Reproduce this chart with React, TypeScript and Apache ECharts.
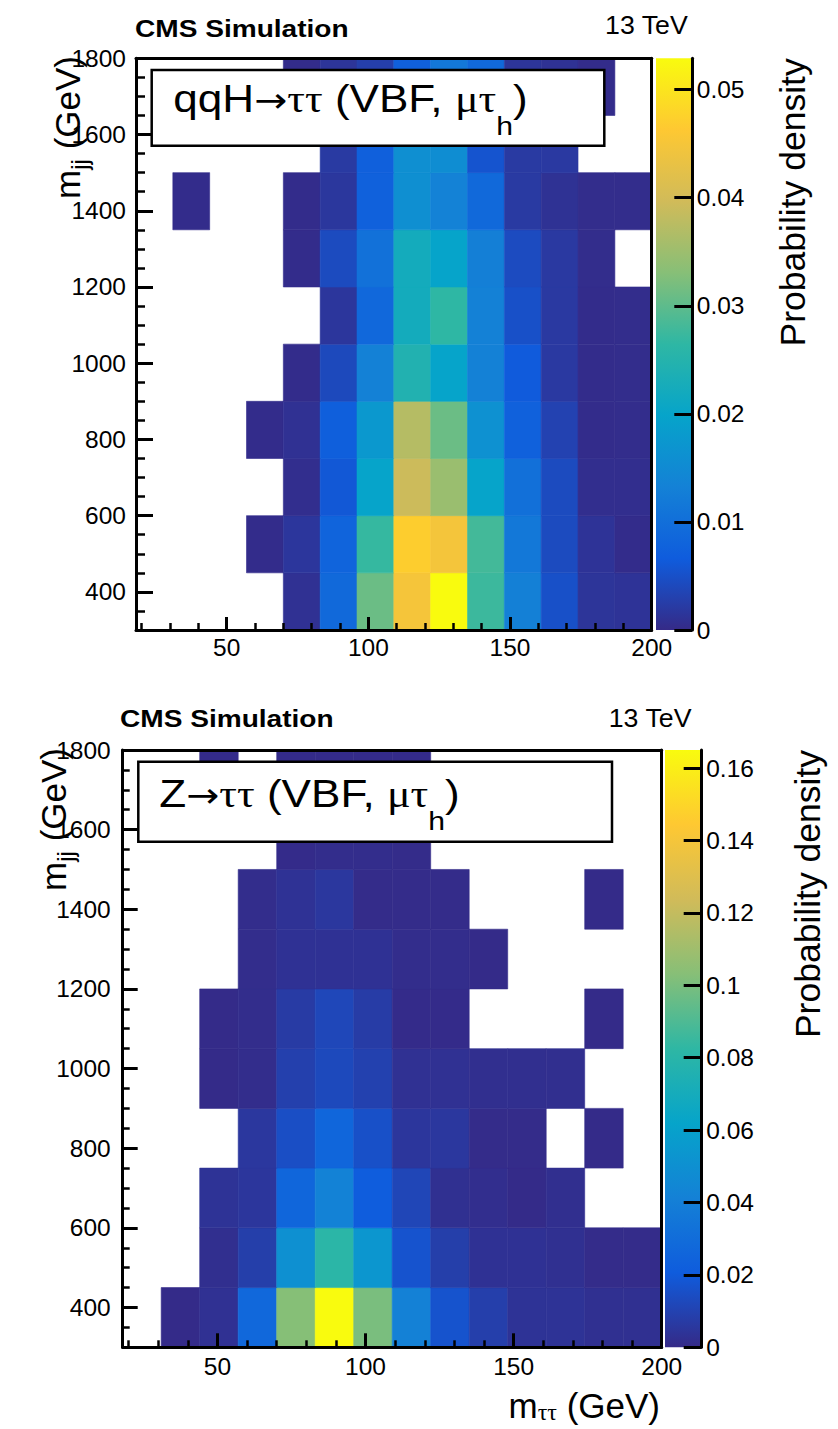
import React, { useEffect, useRef } from "react";
import * as echarts from "echarts";

// ---------------- data ----------------
const M_TAUTAU_LOW_EDGES = [18, 31, 44, 57, 70, 83, 96, 109, 122, 135, 148, 161, 174, 187];
const M_TAUTAU_BIN_WIDTH = 13;
const M_TAUTAU_MIN = 18;
const M_TAUTAU_MAX = 200;
const M_JJ_LOW_EDGES = [300, 450, 600, 750, 900, 1050, 1200, 1350, 1500, 1650];
const M_JJ_BIN_WIDTH = 150;
const M_JJ_MIN = 300;
const M_JJ_MAX = 1800;

const X_TICK_LABELS = [50, 100, 150, 200];
const X_MINOR_TICKS = [20, 30, 40, 60, 70, 80, 90, 110, 120, 130, 140, 160, 170, 180, 190];
const Y_TICK_LABELS = [400, 600, 800, 1000, 1200, 1400, 1600, 1800];
const Y_MINOR_TICKS = [350, 450, 500, 550, 650, 700, 750, 850, 900, 950, 1050, 1100, 1150, 1250, 1300, 1350, 1450, 1500, 1550, 1650, 1700, 1750];

// probability density, one row per m_jj bin (300-450 first), one column per m_tautau bin
const QQH_DENSITY = [
  [0, 0, 0, 0, 0.0009, 0.009, 0.031, 0.045, 0.0529, 0.0275, 0.013, 0.005, 0.0014, 0.0012],
  [0, 0, 0, 0.0003, 0.0016, 0.008, 0.027, 0.047, 0.0448, 0.028, 0.0116, 0.0043, 0.0012, 0.0003],
  [0, 0, 0, 0, 0.0005, 0.0061, 0.0198, 0.0392, 0.0348, 0.0198, 0.0102, 0.0043, 0.0005, 0.0005],
  [0, 0, 0, 0.0003, 0.0009, 0.0071, 0.0176, 0.0372, 0.031, 0.0162, 0.0075, 0.0032, 0.0003, 0.0004],
  [0, 0, 0, 0, 0.0003, 0.0041, 0.0132, 0.0244, 0.0198, 0.0132, 0.0065, 0.002, 0.0003, 0.0004],
  [0, 0, 0, 0, 0, 0.0016, 0.0088, 0.0222, 0.0264, 0.0132, 0.005, 0.002, 0.0003, 0.0004],
  [0, 0, 0, 0, 0.0003, 0.0043, 0.0103, 0.0222, 0.0198, 0.0128, 0.0044, 0.002, 0.0004, 0],
  [0, 0.0003, 0, 0, 0.0003, 0.0017, 0.0075, 0.0158, 0.0134, 0.009, 0.0021, 0.001, 0.0004, 0.0004],
  [0, 0, 0, 0, 0, 0.0021, 0.0073, 0.0158, 0.0155, 0.0055, 0.0021, 0.002, 0, 0],
  [0, 0, 0, 0, 0.0003, 0.0014, 0.0028, 0.0074, 0.0116, 0.009, 0.0014, 0.001, 0.0003, 0],
];

const ZTT_DENSITY = [
  [0, 0.0005, 0.0029, 0.0273, 0.103, 0.165, 0.1, 0.041, 0.0169, 0.0087, 0.0037, 0.0037, 0.0025, 0.0025],
  [0, 0, 0.002, 0.0085, 0.05, 0.081, 0.0536, 0.017, 0.0085, 0.003, 0.003, 0.0025, 0.0008, 0.0008],
  [0, 0, 0.0037, 0.005, 0.0262, 0.042, 0.0212, 0.0115, 0.0025, 0.0016, 0.0005, 0.002, 0, 0],
  [0, 0, 0, 0.0054, 0.0148, 0.026, 0.0156, 0.005, 0.0054, 0.0008, 0.0008, 0, 0.0005, 0],
  [0, 0, 0.0004, 0.0012, 0.009, 0.0128, 0.0095, 0.0029, 0.0029, 0.002, 0.002, 0.002, 0, 0],
  [0, 0, 0.0004, 0.0012, 0.007, 0.012, 0.0075, 0.0006, 0.0006, 0, 0, 0, 0.0004, 0],
  [0, 0, 0, 0.0012, 0.003, 0.003, 0.003, 0.0012, 0.0012, 0.0004, 0, 0, 0, 0],
  [0, 0, 0, 0.0012, 0.0033, 0.0054, 0.0008, 0.0008, 0.0008, 0, 0, 0, 0.0004, 0],
  [0, 0, 0, 0, 0.0006, 0.0012, 0.0012, 0.0008, 0, 0, 0, 0, 0, 0],
  [0, 0, 0.0006, 0, 0.0006, 0.0006, 0.0006, 0.0006, 0, 0, 0, 0, 0, 0],
];

const QQH_Z_MAX = 0.0529;
const ZTT_Z_MAX = 0.165;
const QQH_Z_TICKS = [0, 0.01, 0.02, 0.03, 0.04, 0.05];
const ZTT_Z_TICKS = [0, 0.02, 0.04, 0.06, 0.08, 0.1, 0.12, 0.14, 0.16];

// ROOT kBird palette
const BIRD = ["#352a87", "#0f5cdd", "#1481d6", "#06a4ca", "#2eb7a4", "#87bf77", "#d1bb59", "#fec832", "#f9fb0e"];

// ---------------- layout / styling ----------------
const SANS = "'Liberation Sans', Arial, Helvetica, sans-serif";
const SERIF = "'Liberation Serif', 'DejaVu Serif', serif";
const ARROWF = "'DejaVu Sans', sans-serif";

type Seg = { t: string; size: number; fam?: string; bold?: boolean; dy?: number };

let measureCtx: CanvasRenderingContext2D | null = null;
function measure(s: Seg): number {
  if (!measureCtx) measureCtx = document.createElement("canvas").getContext("2d");
  measureCtx!.font = `${s.bold ? "bold" : "normal"} ${s.size}px ${s.fam || SANS}`;
  return measureCtx!.measureText(s.t).width;
}

// text run anchored on its baseline; align left = anchor at start, right = anchor at end
function run(segs: Seg[], x: number, y: number, align: "left" | "right", rotation = 0, scaleX = 1, z = 100) {
  const ws = segs.map(measure);
  const total = ws.reduce((a, b) => a + b, 0);
  let cx = align === "left" ? 0 : -total;
  const children = segs.map((s, i) => {
    const el = {
      type: "text",
      x: cx,
      y: (s.dy || 0) - 0.3467 * s.size,
      z,
      style: {
        text: s.t,
        fontSize: s.size,
        fontFamily: s.fam || SANS,
        fontWeight: s.bold ? "bold" : "normal",
        fill: "#000",
        align: "left",
        verticalAlign: "middle",
        textAlign: "left",
        textVerticalAlign: "middle",
      },
    };
    cx += ws[i];
    return el;
  });
  return { type: "group", x, y, rotation, scaleX, scaleY: 1, z, children };
}

const PANELS = [
  {
    density: QQH_DENSITY,
    zMax: QQH_Z_MAX,
    zTicks: QQH_Z_TICKS,
    frame: { left: 136, top: 58.3, width: 515.7, height: 571.7 },
    bar: { left: 656, width: 36.3 },
    xTick: [13, 7],
    yTick: [17, 9],
    xLabelMargin: 5,
    yLabelMargin: 10,
    box: { x: 151.7, y: 70, w: 452.6, h: 75.7 },
    boxText: { x: 173.3, y: 112, head: "qqH" },
    cms: { x: 135, y: 36.7 },
    tev: { x: 688.3, y: 34 },
    yTitle: { x: 80, y: 56 },
    zTitle: { x: 805, y: 58.3 },
    xTitle: null as null | { x: number; y: number },
  },
  {
    density: ZTT_DENSITY,
    zMax: ZTT_Z_MAX,
    zTicks: ZTT_Z_TICKS,
    frame: { left: 122.7, top: 750, width: 539, height: 597.3 },
    bar: { left: 665, width: 36.7 },
    xTick: [14, 7],
    yTick: [15, 7],
    xLabelMargin: 7,
    yLabelMargin: 12,
    box: { x: 138.3, y: 761.7, w: 473.7, h: 80 },
    boxText: { x: 159.3, y: 807, head: "Z" },
    cms: { x: 120, y: 726.7 },
    tev: { x: 692, y: 727 },
    yTitle: { x: 66, y: 748 },
    zTitle: { x: 820, y: 750 },
    xTitle: { x: 660, y: 1418 },
  },
];

function buildOption() {
  const grid: any[] = [];
  const xAxis: any[] = [];
  const yAxis: any[] = [];
  const series: any[] = [];
  const visualMap: any[] = [];
  const graphic: any[] = [];

  const black = { color: "#000" };
  const labelStyle = { fontSize: 24.5, fontFamily: SANS, color: "#000" };
  const plain = (v: number) => String(v);

  PANELS.forEach((p) => {
    const gPlot = grid.length;
    grid.push({ left: p.frame.left, top: p.frame.top, width: p.frame.width, height: p.frame.height, outerBoundsMode: "none" });
    const gBar = grid.length;
    grid.push({ left: p.bar.left, top: p.frame.top, width: p.bar.width, height: p.frame.height, outerBoundsMode: "none" });

    const xi = xAxis.length;
    const xBase = { type: "value", gridIndex: gPlot, min: M_TAUTAU_MIN, max: M_TAUTAU_MAX, z: 10, splitLine: { show: false }, minorTick: { show: false } };
    xAxis.push(
      {
        ...xBase,
        position: "bottom",
        axisLine: { show: true, onZero: false, lineStyle: { ...black, width: 3 } },
        axisTick: { show: true, inside: true, length: p.xTick[0], customValues: X_TICK_LABELS, lineStyle: { ...black, width: 3 } },
        axisLabel: { show: true, customValues: X_TICK_LABELS, margin: p.xLabelMargin, formatter: plain, ...labelStyle },
      },
      {
        ...xBase,
        position: "bottom",
        axisLine: { show: false, onZero: false },
        axisTick: { show: true, inside: true, length: p.xTick[1], customValues: X_MINOR_TICKS, lineStyle: { ...black, width: 2.5 } },
        axisLabel: { show: false },
      },
      {
        ...xBase,
        position: "top",
        axisLine: { show: true, onZero: false, lineStyle: { ...black, width: 3 } },
        axisTick: { show: false },
        axisLabel: { show: false },
      },
      { type: "value", gridIndex: gBar, min: 0, max: 1, show: false }
    );

    const yi = yAxis.length;
    const yBase = { type: "value", gridIndex: gPlot, min: M_JJ_MIN, max: M_JJ_MAX, z: 10, splitLine: { show: false }, minorTick: { show: false } };
    yAxis.push(
      {
        ...yBase,
        position: "left",
        axisLine: { show: true, onZero: false, lineStyle: { ...black, width: 3 } },
        axisTick: { show: true, inside: true, length: p.yTick[0], customValues: Y_TICK_LABELS, lineStyle: { ...black, width: 3 } },
        axisLabel: { show: true, customValues: Y_TICK_LABELS, margin: p.yLabelMargin, formatter: plain, ...labelStyle },
      },
      {
        ...yBase,
        position: "left",
        axisLine: { show: false, onZero: false },
        axisTick: { show: true, inside: true, length: p.yTick[1], customValues: Y_MINOR_TICKS, lineStyle: { ...black, width: 2.5 } },
        axisLabel: { show: false },
      },
      {
        ...yBase,
        position: "right",
        axisLine: { show: true, onZero: false, lineStyle: { ...black, width: 3 } },
        axisTick: { show: false },
        axisLabel: { show: false },
      },
      {
        type: "value",
        gridIndex: gBar,
        min: 0,
        max: p.zMax,
        position: "right",
        z: 10,
        splitLine: { show: false },
        axisLine: { show: true, onZero: false, lineStyle: { ...black, width: 3 } },
        axisTick: { show: true, inside: true, length: 18, customValues: p.zTicks, lineStyle: { ...black, width: 3 } },
        axisLabel: { show: true, customValues: p.zTicks, margin: 4.5, formatter: plain, ...labelStyle },
      }
    );

    const cells: number[][] = [];
    p.density.forEach((row, i) =>
      row.forEach((v, j) => {
        if (v > 0) cells.push([M_TAUTAU_LOW_EDGES[j], M_JJ_LOW_EDGES[i], v]);
      })
    );

    const sIdx = series.length;
    series.push({
      type: "custom",
      xAxisIndex: xi,
      yAxisIndex: yi,
      data: cells,
      encode: { x: 0, y: 1 },
      clip: true,
      z: 2,
      renderItem: (params: any, api: any) => {
        const x0 = api.value(0);
        const y0 = api.value(1);
        const a = api.coord([x0, y0 + M_JJ_BIN_WIDTH]);
        const b = api.coord([x0 + M_TAUTAU_BIN_WIDTH, y0]);
        const c = api.visual("color");
        return {
          type: "rect",
          shape: { x: a[0], y: a[1], width: b[0] - a[0], height: b[1] - a[1] },
          style: { fill: c, stroke: c, lineWidth: 0.6 },
        };
      },
    });

    const stops = BIRD.slice()
      .reverse()
      .map((c, i) => ({ offset: i / (BIRD.length - 1), color: c }));
    const zMax = p.zMax;
    series.push({
      type: "custom",
      xAxisIndex: xi + 3,
      yAxisIndex: yi + 3,
      data: [[0.5, zMax / 2]],
      encode: { x: 0, y: 1 },
      clip: false,
      z: 2,
      renderItem: (params: any, api: any) => {
        const a = api.coord([0, zMax]);
        const b = api.coord([1, 0]);
        return {
          type: "rect",
          shape: { x: a[0], y: a[1], width: b[0] - a[0], height: b[1] - a[1] },
          style: { fill: new echarts.graphic.LinearGradient(0, 0, 0, 1, stops) },
        };
      },
    });

    visualMap.push({
      type: "continuous",
      show: false,
      seriesIndex: sIdx,
      dimension: 2,
      min: 0,
      max: p.zMax,
      inRange: { color: BIRD },
    });

    // header texts
    graphic.push(run([{ t: "CMS Simulation", size: 24, bold: true }], p.cms.x, p.cms.y, "left", 0, 1.17));
    graphic.push(run([{ t: "13 TeV", size: 25 }], p.tev.x, p.tev.y, "right", 0, 1.07));

    // process label box
    graphic.push({
      type: "rect",
      z: 99,
      shape: { x: p.box.x, y: p.box.y, width: p.box.w, height: p.box.h },
      style: { fill: "#fff", stroke: "#000", lineWidth: 2.5 },
    });
    graphic.push(
      run(
        [
          { t: p.boxText.head, size: 38 },
          { t: "\u2192", size: 34, fam: ARROWF },
          { t: "\u03c4\u03c4", size: 38, fam: SERIF },
          { t: " (VBF, ", size: 38 },
          { t: "\u03bc\u03c4", size: 38, fam: SERIF },
          { t: "h", size: 26, dy: 23 },
          { t: ")", size: 38 },
        ],
        p.boxText.x,
        p.boxText.y,
        "left",
        0,
        1.16,
        100
      )
    );

    // axis titles
    graphic.push(
      run(
        [
          { t: "m", size: 35 },
          { t: "jj", size: 24, dy: 8 },
          { t: " (GeV)", size: 35 },
        ],
        p.yTitle.x,
        p.yTitle.y,
        "right",
        Math.PI / 2,
        1
      )
    );
    graphic.push(run([{ t: "Probability density", size: 35.5 }], p.zTitle.x, p.zTitle.y, "right", Math.PI / 2, 1));
    if (p.xTitle) {
      graphic.push(
        run(
          [
            { t: "m", size: 35 },
            { t: "\u03c4\u03c4", size: 24, fam: SERIF, dy: 2 },
            { t: " (GeV)", size: 35 },
          ],
          p.xTitle.x,
          p.xTitle.y,
          "right",
          0,
          1
        )
      );
    }
  });

  return {
    animation: false,
    backgroundColor: "#fff",
    grid,
    xAxis,
    yAxis,
    visualMap,
    series,
    graphic,
  };
}

export default function App() {
  const ref = useRef<HTMLDivElement>(null);
  useEffect(() => {
    const chart = echarts.init(ref.current!, null, { renderer: "svg", width: 838, height: 1429 });
    chart.setOption(buildOption() as any);
    return () => chart.dispose();
  }, []);
  return (
    <div
      ref={ref}
      style={{ position: "absolute", left: 0, top: 0, width: 838, height: 1429, background: "#fff" }}
    />
  );
}
